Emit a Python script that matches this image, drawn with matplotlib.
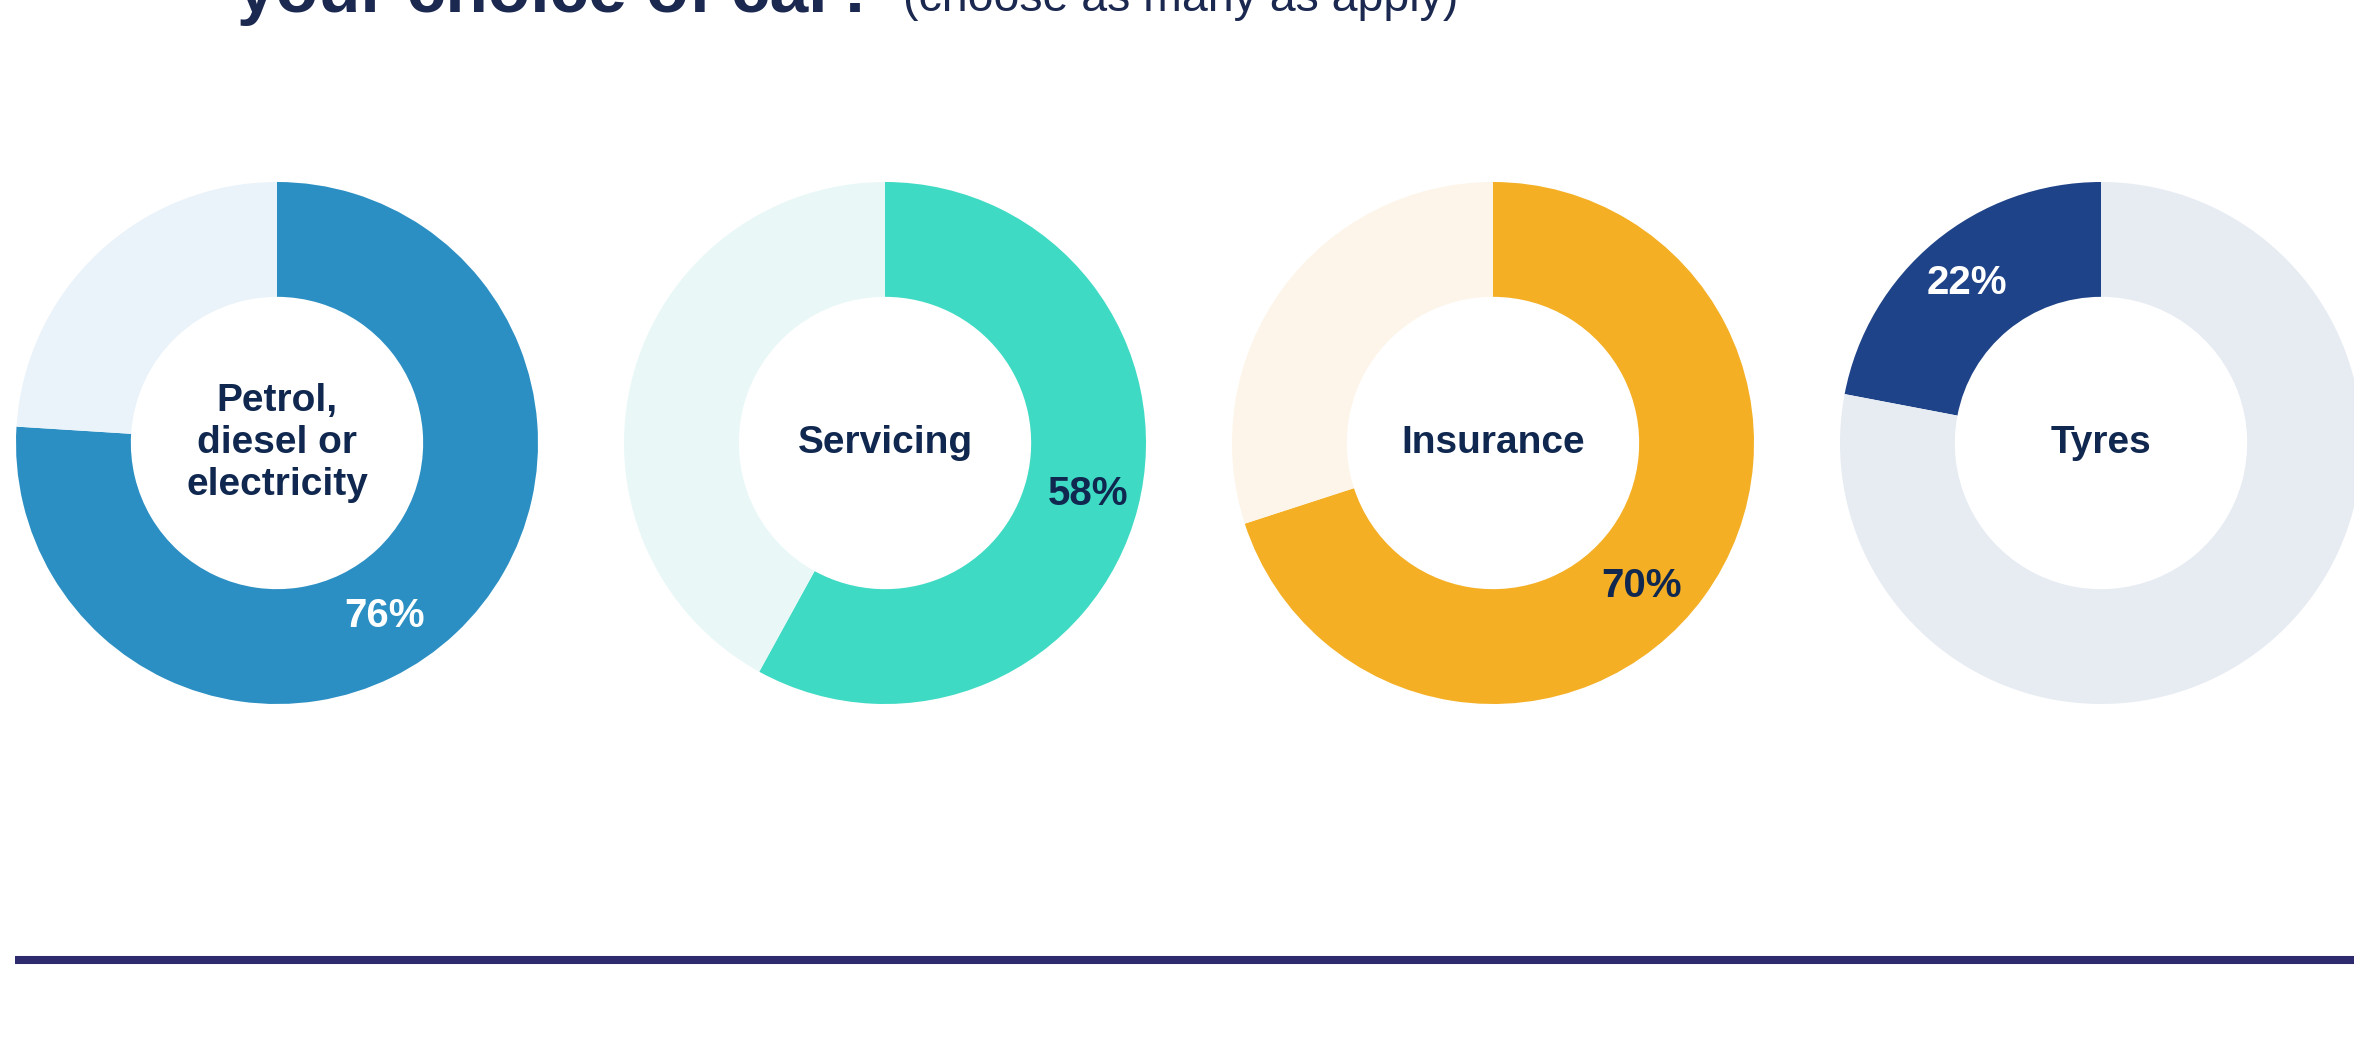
import numpy as np
import matplotlib
matplotlib.use("Agg")
import matplotlib.pyplot as plt
from matplotlib.lines import Line2D

plt.rcParams["font.family"] = ["Liberation Sans", "DejaVu Sans"]

# data
categories = ["Petrol,\ndiesel or\nelectricity", "Servicing", "Insurance", "Tyres"]
values = [76, 58, 70, 22]
main_colors = ["#2B8FC3", "#3EDAC3", "#F4AF24", "#1F4388"]
rest_colors = ["#EAF3F9", "#E9F8F7", "#FDF5E9", "#E7ECF3"]
pct_colors = ["white", "#10284F", "#10284F", "white"]
clockwise = [True, True, True, False]

# label placement: angle (deg, clockwise from top) and radius of the % text
label_angle = [148, 104, 134, -40]
label_radius = [0.78, 0.80, 0.79, 0.80]

W, H = 2354, 1039
fig = plt.figure(figsize=(W / 100, H / 100), dpi=100)
fig.patch.set_facecolor("white")

navy = "#10284F"
R = 261          # outer radius in px
x0, step = 277, 608
cy = 443

for i, (cat, v) in enumerate(zip(categories, values)):
    cx = x0 + i * step
    ax = fig.add_axes([(cx - R) / W, 1 - (cy + R) / H, 2 * R / W, 2 * R / H])
    ax.pie([v, 100 - v], colors=[main_colors[i], rest_colors[i]],
           startangle=90, counterclock=not clockwise[i], radius=1,
           wedgeprops=dict(width=0.44, linewidth=0))
    ax.set_xlim(-1, 1)
    ax.set_ylim(-1, 1)
    ax.set_aspect("equal")
    ax.axis("off")

    ax.text(0, 0, cat, ha="center", va="center", fontsize=28,
            fontweight="bold", color=navy, linespacing=1.22)

    th = np.deg2rad(label_angle[i])
    r = label_radius[i]
    ax.text(r * np.sin(th), r * np.cos(th), f"{v}%", ha="center", va="center",
            fontsize=29, fontweight="bold", color=pct_colors[i])

# title, cut off at the top as in the source
fig.text(237 / W, 1 - 12 / H, "your choice of car?", ha="left", va="baseline",
         fontsize=50, fontweight="bold", color="#1B2850")
fig.text(903 / W, 1 - 11 / H, "(choose as many as apply)", ha="left",
         va="baseline", fontsize=33.5, color="#1B2850")

# bottom rule
fig.add_artist(Line2D([15 / W, 1], [1 - 960 / H, 1 - 960 / H],
                      transform=fig.transFigure, color="#2E2A6E",
                      linewidth=5.8, solid_capstyle="butt"))

fig.savefig("out.png", dpi=100, facecolor="white")
